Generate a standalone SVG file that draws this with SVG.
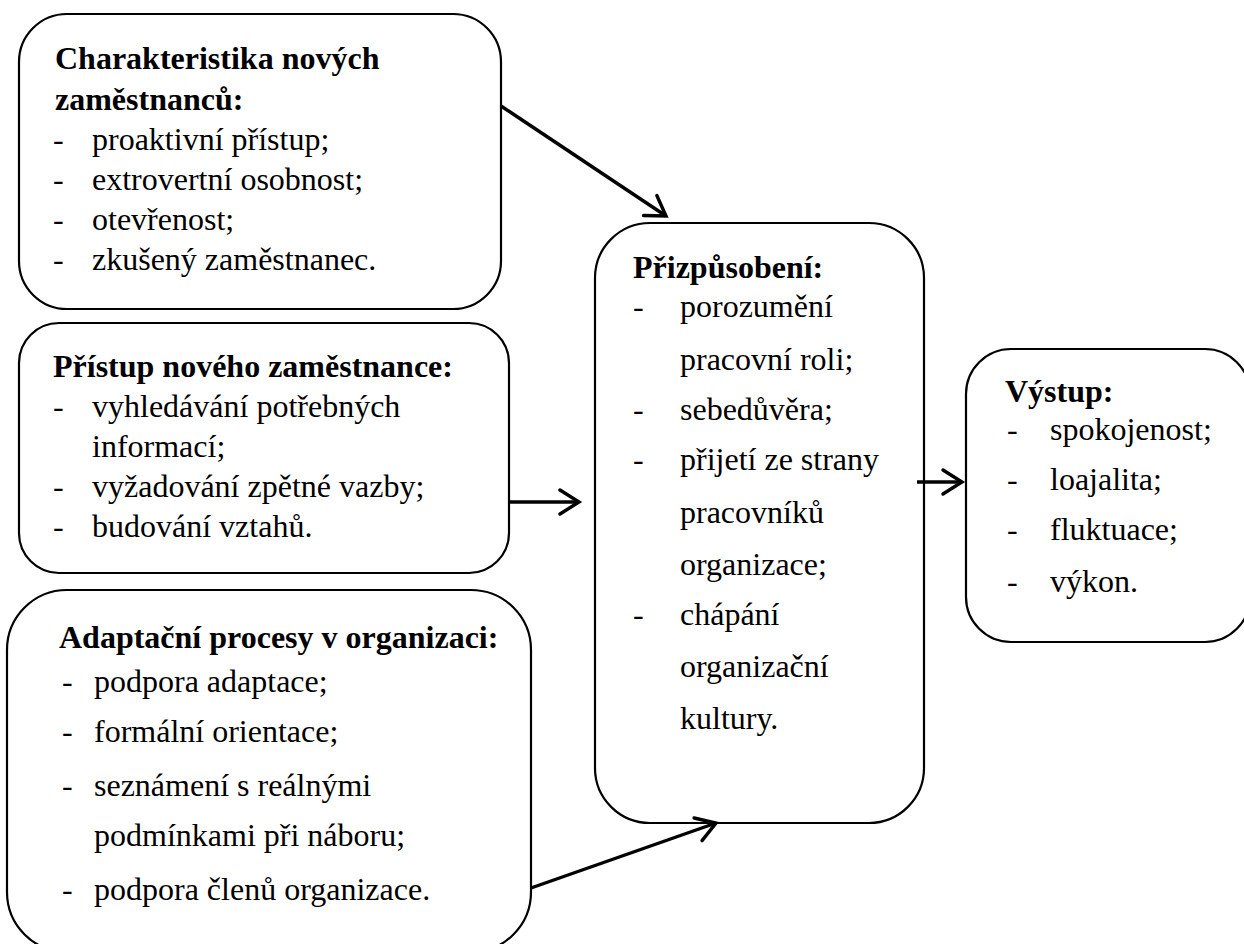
<svg xmlns="http://www.w3.org/2000/svg" width="1244" height="944" viewBox="0 0 1244 944">
<defs>
<style>
.box{fill:#fff;stroke:#000;stroke-width:2.2}
text{font-family:"Liberation Serif","Times New Roman",serif;font-size:32px;fill:#000;font-weight:normal}
text.b{font-weight:bold}
.conn line{stroke:#000;stroke-width:3.4;fill:none}
</style>
<marker id="chev" markerUnits="userSpaceOnUse" markerWidth="40" markerHeight="40" refX="0" refY="0" orient="auto" overflow="visible">
<path d="M-19,-12 L0,0 L-19,12" fill="none" stroke="#000" stroke-width="3.4" stroke-linejoin="miter" stroke-linecap="round"/>
</marker>
</defs>
<rect width="1244" height="944" fill="#fff"/>

<g id="node-charakteristika">
<rect class="box" x="19" y="14" width="482" height="295" rx="48" ry="48"/>
<text class="b" x="55" y="69">Charakteristika nových</text>
<text class="b" x="55" y="110">zaměstnanců:</text>
<text x="53" y="150">-</text><text x="92" y="150">proaktivní přístup;</text>
<text x="53" y="190">-</text><text x="92" y="190">extrovertní osobnost;</text>
<text x="53" y="230">-</text><text x="92" y="230">otevřenost;</text>
<text x="53" y="270">-</text><text x="92" y="270">zkušený zaměstnanec.</text>
</g>

<g id="node-pristup">
<rect class="box" x="19" y="323" width="490" height="250" rx="40" ry="40"/>
<text class="b" x="53" y="377">Přístup nového zaměstnance:</text>
<text x="53" y="417">-</text><text x="92" y="417">vyhledávání potřebných</text>
<text x="92" y="457">informací;</text>
<text x="53" y="497">-</text><text x="92" y="497">vyžadování zpětné vazby;</text>
<text x="53" y="537">-</text><text x="92" y="537">budování vztahů.</text>
</g>

<g id="node-adaptacni">
<rect class="box" x="7" y="590" width="524" height="362" rx="60" ry="60"/>
<text class="b" x="59" y="648">Adaptační procesy v organizaci:</text>
<text x="62" y="692">-</text><text x="94" y="692">podpora adaptace;</text>
<text x="62" y="742">-</text><text x="94" y="742">formální orientace;</text>
<text x="62" y="796">-</text><text x="94" y="796">seznámení s reálnými</text>
<text x="94" y="846">podmínkami při náboru;</text>
<text x="62" y="900">-</text><text x="94" y="900">podpora členů organizace.</text>
</g>

<g id="node-prizpusobeni">
<rect class="box" x="595" y="223" width="329" height="600" rx="55" ry="55"/>
<text class="b" x="633" y="278">Přizpůsobení:</text>
<text x="633" y="317">-</text><text x="680" y="317">porozumění</text>
<text x="680" y="370">pracovní roli;</text>
<text x="633" y="420">-</text><text x="680" y="420">sebedůvěra;</text>
<text x="633" y="470">-</text><text x="680" y="470">přijetí ze strany</text>
<text x="680" y="523">pracovníků</text>
<text x="680" y="575">organizace;</text>
<text x="633" y="625">-</text><text x="680" y="625">chápání</text>
<text x="680" y="677">organizační</text>
<text x="680" y="729">kultury.</text>
</g>

<g id="node-vystup">
<rect class="box" x="966" y="349" width="284" height="293" rx="45" ry="45"/>
<text class="b" x="1005" y="402">Výstup:</text>
<text x="1007" y="440">-</text><text x="1050" y="440">spokojenost;</text>
<text x="1007" y="490">-</text><text x="1050" y="490">loajalita;</text>
<text x="1007" y="540">-</text><text x="1050" y="540">fluktuace;</text>
<text x="1007" y="592">-</text><text x="1050" y="592">výkon.</text>
</g>

<g id="connectors" class="conn">
<line x1="501" y1="106" x2="666" y2="216" marker-end="url(#chev)"/>
<line x1="509" y1="502" x2="579" y2="502" marker-end="url(#chev)"/>
<line x1="917" y1="482" x2="962" y2="482" marker-end="url(#chev)"/>
<line x1="531" y1="888" x2="716" y2="823" marker-end="url(#chev)"/>
</g>
</svg>
